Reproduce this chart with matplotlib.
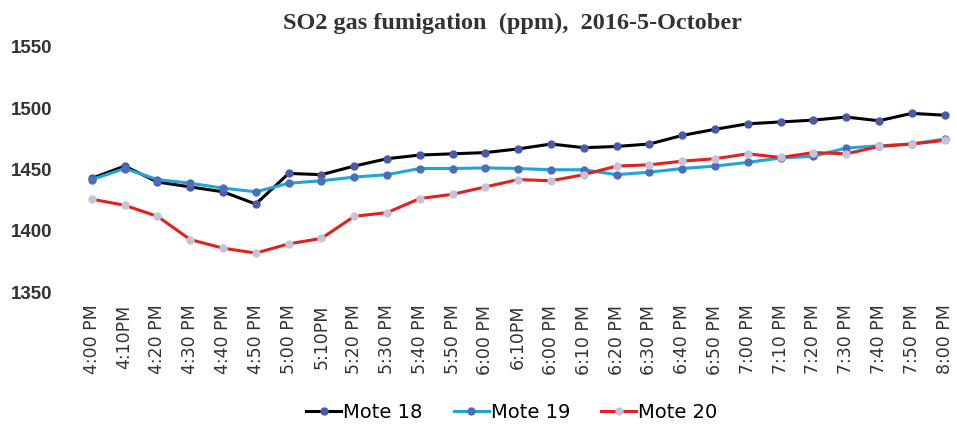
"""SO2 gas fumigation readings for three motes, 2016-5-October."""
import matplotlib
matplotlib.use("Agg")
import matplotlib.pyplot as plt

times = ["4:00 PM", "4:10PM", "4:20 PM", "4:30 PM", "4:40 PM", "4:50 PM",
         "5:00 PM", "5:10PM", "5:20 PM", "5:30 PM", "5:40 PM", "5:50 PM",
         "6:00 PM", "6:10PM", "6:00 PM", "6:10 PM", "6:20 PM", "6:30 PM",
         "6:40 PM", "6:50 PM", "7:00 PM", "7:10 PM", "7:20 PM", "7:30 PM",
         "7:40 PM", "7:50 PM", "8:00 PM"]

mote18 = [1442, 1452, 1439, 1435, 1431, 1421, 1446, 1445, 1452, 1458, 1461,
          1462, 1463, 1466, 1470, 1467, 1468, 1470, 1477, 1482, 1486.5, 1488,
          1489.5, 1492, 1489, 1495, 1493.5]
mote19 = [1441, 1450, 1441, 1438, 1434, 1431, 1438, 1440, 1443, 1445, 1450,
          1450, 1450.5, 1450, 1449, 1449, 1445, 1447, 1450, 1452, 1455, 1458.6,
          1460, 1466.7, 1468.5, 1470, 1474]
mote20 = [1425, 1420, 1411, 1392, 1385, 1381, 1388.5, 1393, 1411, 1414,
          1425.5, 1429, 1435, 1441, 1440, 1445, 1452, 1453, 1456, 1458, 1462,
          1459, 1463, 1462, 1468, 1470, 1473]

yticks = [1350, 1400, 1450, 1500, 1550]

fig = plt.figure(figsize=(9.57, 4.27), dpi=100)
ax = fig.add_axes([0.084, 0.316, 0.915, 0.574])

x = range(len(times))
ax.plot(x, mote18, "-o", color="black", lw=2.2, ms=5,
        mfc="#4a5aa8", mec="#4a5aa8", label="Mote 18")
ax.plot(x, mote19, "-o", color="#1ca6dc", lw=2.2, ms=5,
        mfc="#4a6fb8", mec="#4a6fb8", label="Mote 19")
ax.plot(x, mote20, "-o", color="#e3201c", lw=2.2, ms=5,
        mfc="#c4c4d8", mec="#c4c4d8", label="Mote 20")

ax.set_xlim(-0.35, 26.35)
ax.set_ylim(1350, 1550)
ax.set_yticks(yticks)
ax.set_yticklabels([str(v) for v in yticks], fontsize=13.5, fontweight="bold",
                   family="Liberation Sans", color="#333")
ax.set_xticks(list(x))
ax.set_xticklabels(times, rotation=90, fontsize=12.5, color="#333")
ax.tick_params(axis="both", length=0)
ax.tick_params(axis="y", pad=20)
ax.tick_params(axis="x", pad=9)
for s in ax.spines.values():
    s.set_visible(False)

fig.text(0.535, 0.945, "SO2 gas fumigation  (ppm),  2016-5-October",
         family="Liberation Serif", fontweight="bold", fontsize=17.5,
         color="#333", ha="center", va="center")

fig.legend(loc="lower center", bbox_to_anchor=(0.535, -0.03), ncol=3,
           frameon=False, fontsize=14, handlelength=1.8, columnspacing=1.6,
           handletextpad=0.1)

fig.savefig("out.png", dpi=100)
